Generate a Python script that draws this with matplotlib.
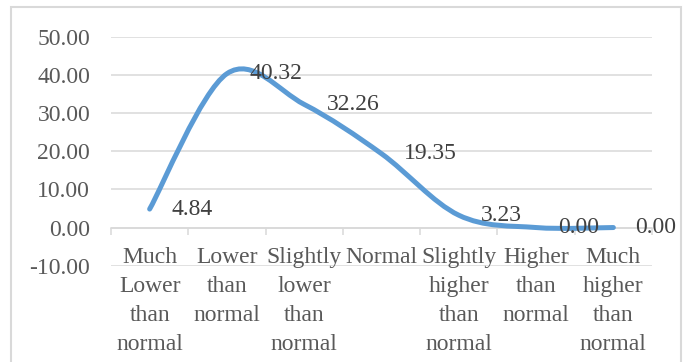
import matplotlib
matplotlib.use("Agg")
import matplotlib.pyplot as plt
from matplotlib.path import Path
from matplotlib.patches import PathPatch, Rectangle
import numpy as np

# Survey categories and the share of responses (%) in each
categories = ["Much Lower than normal", "Lower than normal", "Slightly lower than normal",
              "Normal", "Slightly higher than normal", "Higher than normal",
              "Much higher than normal"]
values = [4.84, 40.32, 32.26, 19.35, 3.23, 0.00, 0.00]
y_ticks = [-10, 0, 10, 20, 30, 40, 50]

LINE_BLUE = "#5B9BD5"
GRID_GREY = "#D9D9D9"
AXIS_TEXT = "#595959"
LABEL_TEXT = "#404040"

plt.rcParams["font.family"] = ["Liberation Serif", "DejaVu Serif"]

W, H = 688, 362
fig = plt.figure(figsize=(W / 100, H / 100), dpi=100)
fig.patch.set_facecolor("white")

left, right, top, bottom = 111, 652, 36.7, 265.7
ax = fig.add_axes([left / W, 1 - bottom / H, (right - left) / W, (bottom - top) / H])

x = np.arange(len(values), dtype=float)
y = np.array(values, dtype=float)

# Smoothed line: Catmull-Rom spline expressed as cubic Bezier segments
verts = [(x[0], y[0])]
codes = [Path.MOVETO]
n = len(x)
for i in range(n - 1):
    p0 = np.array([x[max(i - 1, 0)], y[max(i - 1, 0)]])
    p1 = np.array([x[i], y[i]])
    p2 = np.array([x[i + 1], y[i + 1]])
    p3 = np.array([x[min(i + 2, n - 1)], y[min(i + 2, n - 1)]])
    c1 = p1 + (p2 - p0) / 6.0
    c2 = p2 - (p3 - p1) / 6.0
    verts += [tuple(c1), tuple(c2), tuple(p2)]
    codes += [Path.CURVE4] * 3
curve = PathPatch(Path(verts, codes), facecolor="none", edgecolor=LINE_BLUE,
                  lw=3.6, capstyle="round", joinstyle="round", zorder=3)
ax.add_patch(curve)

ax.set_xlim(-0.5, len(values) - 0.5)
ax.set_ylim(y_ticks[0], y_ticks[-1])

# Value gridlines
ax.set_yticks(y_ticks)
ax.set_yticklabels([f"{t:.2f}" for t in y_ticks])
ax.yaxis.grid(True, color=GRID_GREY, lw=1.1)
ax.set_axisbelow(True)
ax.tick_params(axis="y", length=0, pad=15, labelsize=17, labelcolor=AXIS_TEXT)
ax.set_xticks([])
for s in ax.spines.values():
    s.set_visible(False)

# Category axis drawn at zero, tick marks between categories
zero_frac = (0 - y_ticks[0]) / (y_ticks[-1] - y_ticks[0])
cat_axis = ax.secondary_xaxis(zero_frac)
cat_axis.set_xticks(np.arange(len(values) + 1) - 0.5)
cat_axis.set_xticklabels([])
cat_axis.tick_params(axis="x", direction="out", length=5, width=1.1, color=GRID_GREY)
cat_axis.spines["bottom"].set_color(GRID_GREY)
cat_axis.spines["bottom"].set_linewidth(1.1)
for side in ("top", "left", "right"):
    cat_axis.spines[side].set_visible(False)

# Wrapped category labels below the zero line
for i, cat in enumerate(categories):
    ax.annotate("\n".join(cat.split()), xy=(i, 0), xytext=(0, -14),
                textcoords="offset points", ha="center", va="top",
                multialignment="center", fontsize=17, color=AXIS_TEXT,
                linespacing=1.5, annotation_clip=False, zorder=2)

# Value labels to the right of each point
for i, v in enumerate(values):
    ax.annotate(f"{v:.2f}", xy=(i, v), xytext=(16, 0), textcoords="offset points",
                ha="left", va="center", fontsize=17, color=LABEL_TEXT,
                annotation_clip=False, zorder=4)

# Chart frame
fig.patches.append(Rectangle((11 / W, -0.1), (681 - 11) / W, 1.1 - 7.3 / H,
                             transform=fig.transFigure, fill=False,
                             edgecolor=GRID_GREY, lw=1.5, clip_on=False))

fig.savefig("out.png", dpi=100)
